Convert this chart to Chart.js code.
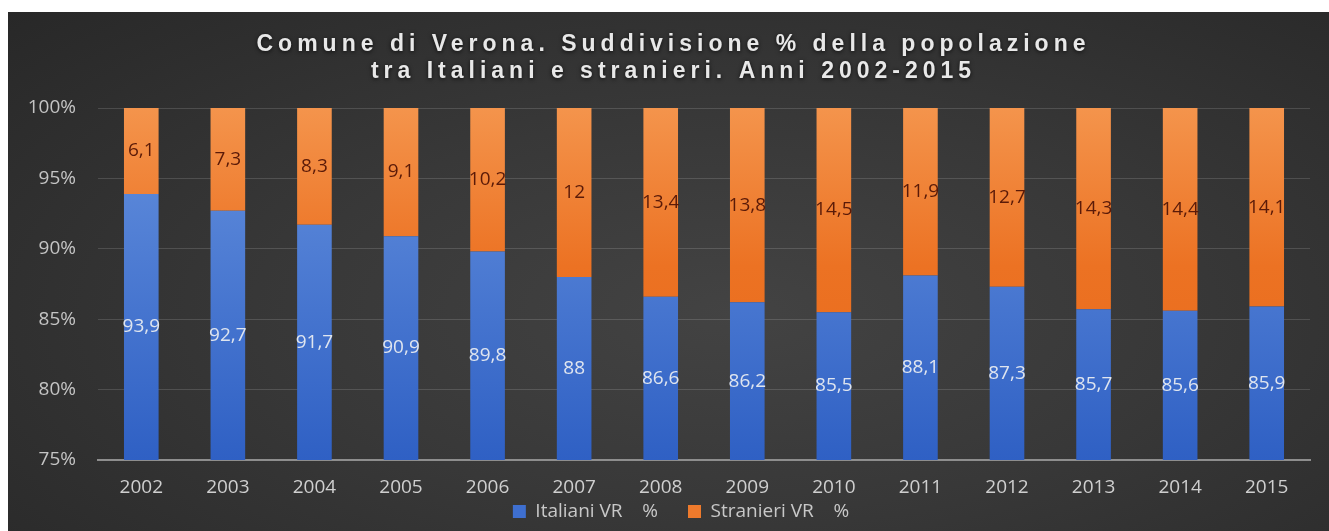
<!DOCTYPE html>
<html>
<head>
<meta charset="utf-8">
<script src="https://cdn.jsdelivr.net/npm/chart.js@4.4.1/dist/chart.umd.min.js"></script>
<style>
html,body{margin:0;padding:0;background:#ffffff;width:1329px;height:531px;overflow:hidden}
#wrap{position:absolute;left:8px;top:12px;width:1321px;height:519px;
  background:radial-gradient(ellipse 75% 85% at 55% 58%, #434343 0%, #383838 45%, #282828 100%);}
</style>
</head>
<body>
<div id="wrap"><canvas id="c"></canvas></div>
<script>
// ---- data ----
const years = ['2002','2003','2004','2005','2006','2007','2008','2009','2010','2011','2012','2013','2014','2015'];
const italiani = [93.9, 92.7, 91.7, 90.9, 89.8, 88, 86.6, 86.2, 85.5, 88.1, 87.3, 85.7, 85.6, 85.9];
const stranieri = [6.1, 7.3, 8.3, 9.1, 10.2, 12, 13.4, 13.8, 14.5, 11.9, 12.7, 14.3, 14.4, 14.1];
const seriesNames = ['Italiani VR    %', 'Stranieri VR    %'];
const yTickValues = [75, 80, 85, 90, 95, 100];
const yTickLabels = ['75%', '80%', '85%', '90%', '95%', '100%'];
const titleLines = ['Comune di Verona. Suddivisione % della popolazione', 'tra Italiani e stranieri. Anni 2002-2015'];

// ---- styles ----
const legendColors = ['#3e6fd0', '#ee7a2c'];
function blueFill(ctx){
  const a = ctx.chart.chartArea;
  if(!a) return legendColors[0];
  const g = ctx.chart.ctx.createLinearGradient(0, a.top, 0, a.bottom);
  g.addColorStop(0, '#6591de');
  g.addColorStop(1, '#2f60c4');
  return g;
}
function orangeFill(ctx){
  const a = ctx.chart.chartArea;
  if(!a) return legendColors[1];
  const g = ctx.chart.ctx.createLinearGradient(0, a.top, 0, a.bottom);
  g.addColorStop(0, '#f4944c');
  g.addColorStop(0.45, '#ec7223');
  g.addColorStop(1, '#e86818');
  return g;
}

const titlePlugin = {
  id: 'spacedTitle',
  afterDraw(chart){
    const ctx = chart.ctx;
    ctx.save();
    ctx.font = 'bold 23px "Liberation Sans", Arial, sans-serif';
    if ('letterSpacing' in ctx) ctx.letterSpacing = '5px';
    ctx.fillStyle = '#e8e8e8';
    ctx.textAlign = 'center';
    ctx.textBaseline = 'middle';
    ctx.shadowColor = 'rgba(0,0,0,0.75)';
    ctx.shadowBlur = 4;
    ctx.shadowOffsetY = 1;
    const cx = chart.width / 2 + 5;
    titleLines.forEach((t, i) => ctx.fillText(t, cx, 33 + i * 27));
    ctx.restore();
  }
};

const valueLabels = {
  id: 'valueLabels',
  afterDatasetsDraw(chart){
    const ctx = chart.ctx, a = chart.chartArea;
    ctx.save();
    ctx.font = '19px "Open Sans", sans-serif';
    ctx.textAlign = 'center';
    ctx.textBaseline = 'middle';
    chart.data.datasets.forEach((ds, di) => {
      const meta = chart.getDatasetMeta(di);
      meta.data.forEach((el, i) => {
        const top = Math.max(Math.min(el.y, el.base), a.top);
        const bot = Math.min(Math.max(el.y, el.base), a.bottom);
        ctx.fillStyle = di === 0 ? '#dfe5ef' : '#5a1a08';
        ctx.fillText(String(ds.data[i]).replace('.', ','), el.x, (top + bot) / 2);
      });
    });
    ctx.restore();
  }
};

// legend: compact box in the layout, then extend its top so the row sits where the reference has it
const legendFit = {
  id: 'legendFit',
  beforeInit(chart){
    const lg = chart.legend;
    if (!lg) return;
    const orig = lg.fit;
    lg.fit = function(){ orig.call(this); this.height = 31; };
  },
  afterLayout(chart){
    const lg = chart.legend;
    if (!lg) return;
    const p = lg.options.labels.padding;
    lg.top -= (p - 2);
    lg.left += 22;
    lg.right += 22;
  }
};

new Chart(document.getElementById('c'), {
  type: 'bar',
  data: {
    labels: years,
    datasets: [
      { label: seriesNames[0], data: italiani, backgroundColor: blueFill, borderWidth: 0, barPercentage: 0.4, categoryPercentage: 1 },
      { label: seriesNames[1], data: stranieri, backgroundColor: orangeFill, borderWidth: 0, barPercentage: 0.4, categoryPercentage: 1 }
    ]
  },
  options: {
    responsive: true,
    maintainAspectRatio: false,
    animation: false,
    devicePixelRatio: 1,
    layout: { padding: { top: 96, right: 19, left: 0, bottom: 0 } },
    plugins: {
      title: { display: false },
      tooltip: { enabled: false },
      legend: {
        position: 'bottom',
        labels: {
          color: '#c8c8c8',
          font: { family: 'Open Sans', size: 19 },
          boxWidth: 13,
          boxHeight: 13,
          padding: 30,
          generateLabels(chart){
            const items = Chart.defaults.plugins.legend.labels.generateLabels(chart);
            items.forEach((it, i) => { it.fillStyle = legendColors[i]; it.strokeStyle = legendColors[i]; it.lineWidth = 0; });
            return items;
          }
        }
      }
    },
    scales: {
      x: {
        stacked: true,
        grid: { display: false, drawTicks: false },
        border: { display: true, color: '#8e8e8e', width: 2 },
        ticks: { color: '#cfcfcf', font: { family: 'Open Sans', size: 19 }, padding: 16 },
        afterFit(s){ s.height = 40; }
      },
      y: {
        stacked: true,
        min: 75,
        max: 100,
        afterBuildTicks(s){ s.ticks = yTickValues.map(v => ({ value: v })); },
        ticks: {
          color: '#c4c4c4',
          font: { family: 'Open Sans', size: 19 },
          padding: 22,
          callback(v){ const k = yTickValues.indexOf(v); return k >= 0 ? yTickLabels[k] : ''; }
        },
        grid: {
          drawTicks: false,
          lineWidth: 1,
          color(c){ return c.tick && c.tick.value === 75 ? 'rgba(0,0,0,0)' : 'rgba(255,255,255,0.14)'; }
        },
        border: { display: false },
        afterFit(s){ s.width = 90; }
      }
    }
  },
  plugins: [legendFit, valueLabels, titlePlugin]
});
</script>
</body>
</html>
